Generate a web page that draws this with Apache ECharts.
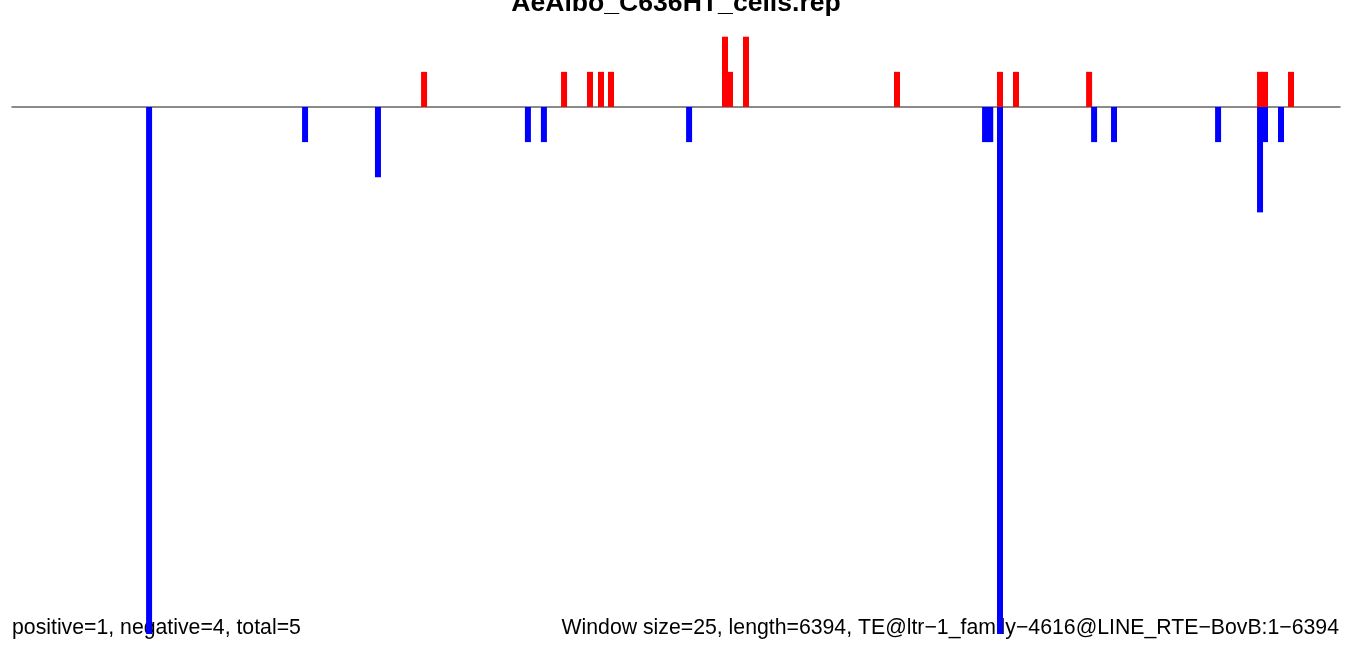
<!DOCTYPE html>
<html>
<head>
<meta charset="utf-8">
<script src="https://cdn.jsdelivr.net/npm/echarts@6/dist/echarts.min.js"></script>
<style>
html,body{margin:0;padding:0;background:#fff;}
#chart{width:1352px;height:648px;}
</style>
</head>
<body>
<div id="chart"></div>
<script>
// Data (window positions in bp)
const seqLength = 6394;
const titleText = 'AeAlbo_C636HT_cells.rep';
const leftNote = 'positive=1, negative=4, total=5';
const rightNote = 'Window size=25, length=6394, TE@ltr\u22121_family\u22124616@LINE_RTE\u2212BovB:1\u22126394';

const posPositions = [1984, 2658, 2783, 2836, 2884, 3433, 3457, 3534, 4261, 4757, 4834, 5186, 6009, 6033, 6158];
const posValues    = [1, 1, 1, 1, 1, 2, 1, 2, 1, 1, 1, 1, 1, 1, 1];

const negPositions = [660, 1411, 1762, 2484, 2561, 3260, 4685, 4710, 4757, 5210, 5306, 5807, 6009, 6033, 6110];
const negValues    = [-15, -1, -2, -1, -1, -1, -1, -1, -15, -1, -1, -1, -3, -1, -1];

const chart = echarts.init(document.getElementById('chart'), null, {renderer: 'canvas'});

const posData = posPositions.map((p, i) => [p, posValues[i]]);
const negData = negPositions.map((p, i) => [p, negValues[i]]);

chart.setOption({
  animation: false,
  backgroundColor: '#ffffff',
  grid: {left: 12, right: 12, top: 36.7, bottom: 14, containLabel: false},
  xAxis: {
    type: 'value', min: 0, max: seqLength,
    axisLine: {show: true, onZero: true, lineStyle: {color: '#666666', width: 1.5}},
    axisTick: {show: false}, axisLabel: {show: false}, splitLine: {show: false}
  },
  yAxis: {
    type: 'value', min: -15, max: 2,
    axisLine: {show: false}, axisTick: {show: false}, axisLabel: {show: false}, splitLine: {show: false}
  },
  graphic: [
    {type: 'text', left: 'center', top: -10, style: {text: titleText, font: 'bold 26.6px "Liberation Sans", Arial, sans-serif', fill: '#000'}},
    {type: 'text', x: 12, y: 628, style: {text: leftNote, font: '21.25px "Liberation Sans", Arial, sans-serif', fill: '#000', verticalAlign: 'middle', align: 'left'}},
    {type: 'text', x: 1339, y: 628, style: {text: rightNote, font: '21.25px "Liberation Sans", Arial, sans-serif', fill: '#000', verticalAlign: 'middle', align: 'right'}}
  ],
  series: [
    {type: 'bar', name: 'positive', data: posData, barWidth: 6, barGap: '-100%', itemStyle: {color: '#ff0000'}, z: 3},
    {type: 'bar', name: 'negative', data: negData, barWidth: 6, barGap: '-100%', itemStyle: {color: '#0000ff'}, z: 3}
  ]
});
</script>
</body>
</html>
